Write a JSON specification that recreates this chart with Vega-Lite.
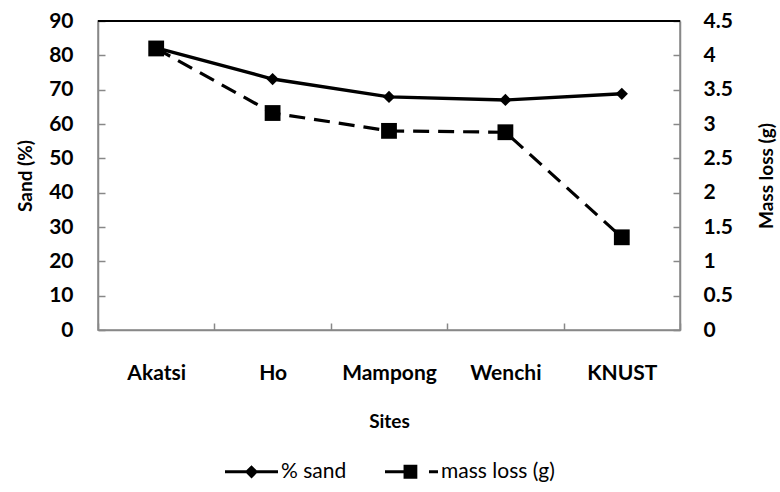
{
  "$schema": "https://vega.github.io/schema/vega-lite/v6.json",
  "width": 582,
  "height": 309,
  "autosize": {"type": "none"},
  "padding": {"left": 98, "top": 21, "right": 100, "bottom": 162},
  "background": "white",
  "config": {
    "font": "Lato",
    "view": {"stroke": "#888888", "strokeWidth": 1.5},
    "axis": {
      "grid": false,
      "domainColor": "#888888",
      "domainWidth": 1.5,
      "tickColor": "#888888",
      "tickWidth": 1.5,
      "tickSize": -7,
      "labelFont": "Lato",
      "labelFontWeight": "bold",
      "labelFontSize": 21,
      "labelColor": "black",
      "titleFont": "Lato",
      "titleFontSize": 19,
      "titleFontWeight": "bold",
      "titleColor": "black"
    }
  },
  "data": {
    "values": [
      {"site": "Akatsi", "sand": 82.2, "mass": 4.1},
      {"site": "Ho", "sand": 73.1, "mass": 3.16},
      {"site": "Mampong", "sand": 67.9, "mass": 2.9},
      {"site": "Wenchi", "sand": 67.0, "mass": 2.88},
      {"site": "KNUST", "sand": 68.8, "mass": 1.35}
    ]
  },
  "layer": [
    {
      "encoding": {
        "y": {
          "field": "sand",
          "type": "quantitative",
          "scale": {"domain": [0, 90]},
          "axis": {"title": "Sand (%)", "orient": "left", "values": [0,10,20,30,40,50,60,70,80,90], "labelPadding": 32, "titlePadding": 13}
        }
      },
      "layer": [
        {
          "mark": {"type": "rule", "color": "black", "strokeWidth": 1.5},
          "encoding": {"y": {"datum": 90}}
        },
        {
          "mark": {"type": "line", "color": "black", "strokeWidth": 3.4},
          "encoding": {
            "x": {
              "field": "site",
              "type": "nominal",
              "sort": null,
              "bandPosition": 0.5,
              "scale": {"type": "band", "paddingInner": 0, "paddingOuter": 0},
              "axis": {"title": "Sites", "labelAngle": 0, "tickBand": "extent", "labelPadding": 39, "titlePadding": 29}
            }
          }
        },
        {
          "mark": {"type": "point", "color": "black", "filled": true, "size": 150, "opacity": 1, "shape": "diamond"},
          "encoding": {
            "x": {"field": "site", "type": "nominal", "sort": null, "bandPosition": 0.5}
          }
        },
        {
          "mark": {"type": "point", "color": "black", "filled": true, "opacity": 0},
          "encoding": {
            "x": {"field": "site", "type": "nominal", "sort": null, "bandPosition": 0.5},
            "shape": {
              "datum": "% sand",
              "type": "nominal",
              "scale": {
                "domain": ["% sand", "mass loss (g)"],
                "range": [
                  "M-1,-0.06H1V0.06H-1Z M0,-0.25L0.25,0L0,0.25L-0.25,0Z",
                  "M-1,-0.06H-0.3V0.06H-1Z M-0.3,-0.26H0.22V0.26H-0.3Z M0.66,-0.06H1V0.06H0.66Z"
                ]
              },
              "legend": {
                "title": null,
                "orient": "none",
                "legendX": 127,
                "legendY": 424,
                "padding": 0,
                "direction": "horizontal",
                "labelFontSize": 21,
                "labelFont": "Lato",
                "labelColor": "black",
                "labelOffset": 3,
                "symbolSize": 2809,
                "symbolFillColor": "black",
                "symbolStrokeColor": "black",
                "symbolStrokeWidth": 0,
                "symbolOpacity": 1,
                "columnPadding": 38
              }
            }
          }
        }
      ]
    },
    {
      "encoding": {
        "x": {"field": "site", "type": "nominal", "sort": null, "bandPosition": 0.5},
        "y": {
          "field": "mass",
          "type": "quantitative",
          "scale": {"domain": [0, 4.5]},
          "axis": {"title": "Mass loss (g)", "orient": "right", "format": ".1~f", "titleAngle": 270, "values": [0,0.5,1,1.5,2,2.5,3,3.5,4,4.5], "labelPadding": 30, "titlePadding": 44}
        }
      },
      "layer": [
        {
          "mark": {"type": "line", "color": "black", "strokeWidth": 3.2, "strokeDash": [16, 9]}
        },
        {
          "mark": {"type": "point", "color": "black", "filled": true, "size": 250, "opacity": 1, "shape": "square"}
        },
        {
          "mark": {"type": "point", "color": "black", "filled": true, "opacity": 0},
          "encoding": {
            "shape": {"datum": "mass loss (g)", "type": "nominal"}
          }
        }
      ]
    }
  ],
  "resolve": {"scale": {"y": "independent"}}
}
